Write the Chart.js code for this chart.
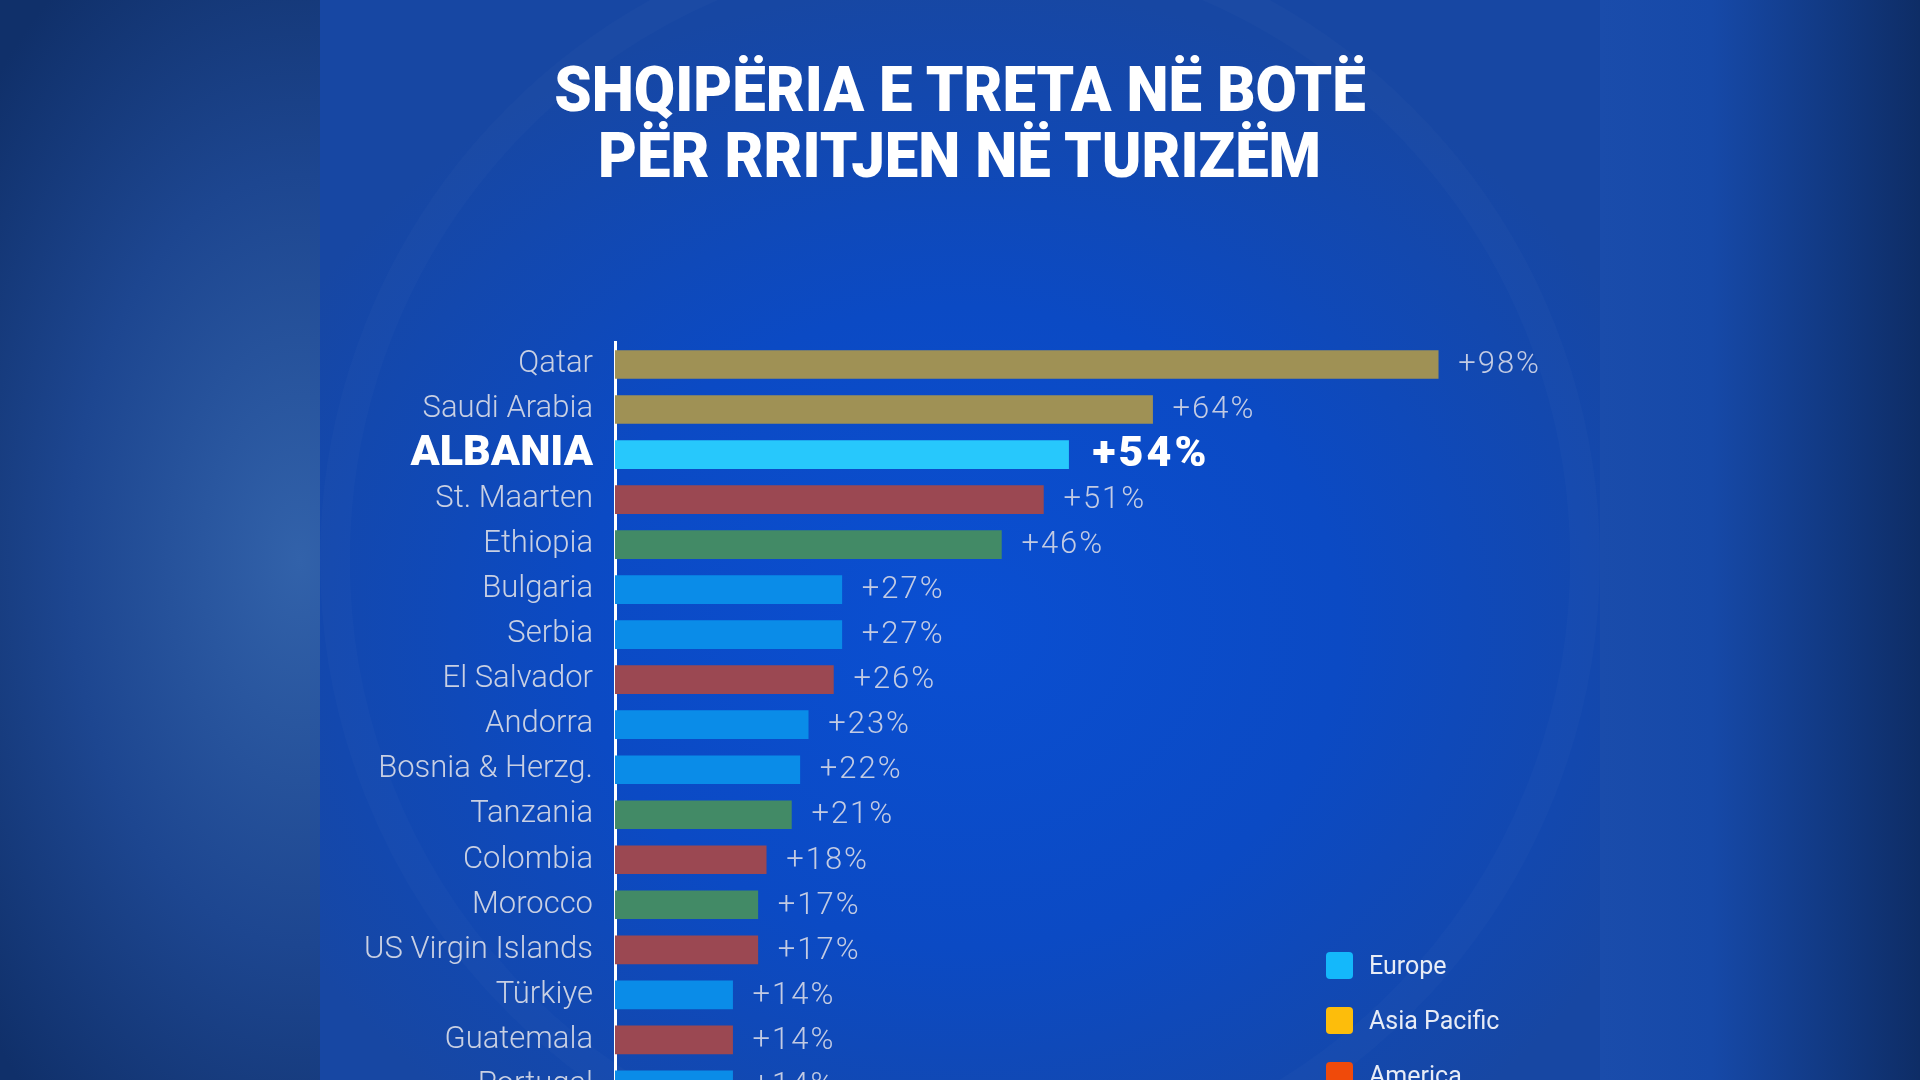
<!DOCTYPE html>
<html>
<head>
<meta charset="utf-8">
<script src="https://cdn.jsdelivr.net/npm/chart.js@4"></script>
<style>
  html, body { margin: 0; padding: 0; width: 1920px; height: 1080px; overflow: hidden; }
  body {
    position: relative;
    font-family: Roboto, "Noto Sans", sans-serif;
    background: radial-gradient(ellipse 420px 700px at 300px 560px, #3262aa 0%, #1d4690 55%, #10306a 100%);
  }
  .side-right {
    position: absolute; left: 1600px; top: 0; width: 320px; height: 1080px;
    background: linear-gradient(to right, #1a4cab 0%, #1649a8 35%, #0e2d66 100%);
  }
  .panel {
    position: absolute; left: 320px; top: 0; width: 1280px; height: 1080px; overflow: hidden;
    background: radial-gradient(ellipse 760px 640px at 50% 58%, #0a4fd2 0%, #0b4ac4 50%, #1747a3 100%);
  }
  .ring {
    position: absolute; left: 0px; top: -80px; width: 1280px; height: 1280px;
    box-sizing: border-box; border-radius: 50%;
    border: 30px solid rgba(255,255,255,0.02);
  }
  h1 {
    position: absolute; left: 320px; top: 57px; width: 1280px; margin: 0;
    text-align: center; color: #ffffff; font-weight: 900; font-size: 63px; line-height: 66px;
    font-family: Roboto, sans-serif;
  }
  h1 span { display: inline-block; transform: scaleX(0.95); transform-origin: center; }
  #wrap { position: absolute; left: 0; top: 0; width: 1920px; height: 1148px; }
  .legend { position: absolute; left: 1326px; top: 952px; }
  .legend div { height: 55px; display: flex; align-items: flex-start; color: #e8ecf6; font-size: 25px; }
  .legend i { display: inline-block; width: 27px; height: 27px; border-radius: 4px; margin-right: 16px; }
  .legend b { font-weight: 400; line-height: 27px; }
</style>
</head>
<body>
<div class="side-right"></div>
<div class="panel"><div class="ring"></div></div>
<h1><span>SHQIPËRIA E TRETA NË BOTË</span><br><span>PËR RRITJEN NË TURIZËM</span></h1>
<div id="wrap"><canvas id="chart" width="1920" height="1148"></canvas></div>
<div class="legend" id="legend"></div>

<script>
const countries = ['Qatar', 'Saudi Arabia', 'ALBANIA', 'St. Maarten', 'Ethiopia', 'Bulgaria', 'Serbia',
  'El Salvador', 'Andorra', 'Bosnia & Herzg.', 'Tanzania', 'Colombia', 'Morocco', 'US Virgin Islands',
  'Türkiye', 'Guatemala', 'Portugal'];
const growth = [98, 64, 54, 51, 46, 27, 27, 26, 23, 22, 21, 18, 17, 17, 14, 14, 14];
const regions = ['asia', 'asia', 'albania', 'america', 'africa', 'europe', 'europe',
  'america', 'europe', 'europe', 'africa', 'america', 'africa', 'america',
  'europe', 'america', 'europe'];

const barColors = {
  asia: '#9f9155',
  europe: '#0a8ce8',
  america: '#9b4852',
  africa: '#428a66',
  albania: '#27c8fc'
};

const legendNames = ['Europe', 'Asia Pacific', 'America', 'Africa'];
const legendColors = ['#14b8fb', '#fdbd0b', '#f04a0a', '#3fa35f'];

const highlight = 2; // Shqipëria

// legjenda
const lg = document.getElementById('legend');
legendNames.forEach((n, i) => {
  const d = document.createElement('div');
  d.innerHTML = '<i style="background:' + legendColors[i] + '"></i><b>' + n + '</b>';
  lg.appendChild(d);
});

// etiketat e vlerave pas shtyllave
const valueLabels = {
  id: 'valueLabels',
  afterDatasetsDraw(chart) {
    const ctx = chart.ctx;
    const meta = chart.getDatasetMeta(0);
    ctx.save();
    ctx.textBaseline = 'middle';
    ctx.textAlign = 'left';
    meta.data.forEach((bar, i) => {
      if (i === highlight) {
        ctx.font = '900 43px Roboto';
        ctx.letterSpacing = '3px';
        ctx.fillStyle = '#ffffff';
        ctx.fillText('+' + growth[i] + '%', bar.x + 24, bar.y + 1);
      } else {
        ctx.font = '300 31px Roboto';
        ctx.letterSpacing = '2px';
        ctx.fillStyle = '#c3cbe3';
        ctx.fillText('+' + growth[i] + '%', bar.x + 20, bar.y + 1);
      }
    });
    ctx.restore();
  }
};

const canva = document.getElementById('chart').getContext('2d');
new Chart(canva, {
  type: 'bar',
  data: {
    labels: countries,
    datasets: [{
      label: 'Rritja',
      data: growth,
      backgroundColor: regions.map(r => barColors[r]),
      borderWidth: 0,
      barThickness: 28
    }]
  },
  options: {
    indexAxis: 'y',
    responsive: false,
    animation: false,
    layout: { padding: { left: 320, right: 465, top: 342, bottom: 0 } },
    plugins: { legend: { display: false }, tooltip: { enabled: false } },
    scales: {
      x: { display: false, min: 0, max: 100 },
      y: {
        afterFit(scale) { scale.width = 295; },
        grid: { display: false, drawTicks: false },
        border: { display: true, color: '#ffffff', width: 3 },
        ticks: {
          autoSkip: false,
          padding: 22,
          color: ctx => ctx.index === highlight ? '#ffffff' : '#c9d0e3',
          font: ctx => ctx.index === highlight
            ? { family: 'Roboto', size: 43, weight: '900' }
            : { family: 'Roboto', size: 31, weight: '300' }
        }
      }
    }
  },
  plugins: [valueLabels]
});
</script>
</body>
</html>
